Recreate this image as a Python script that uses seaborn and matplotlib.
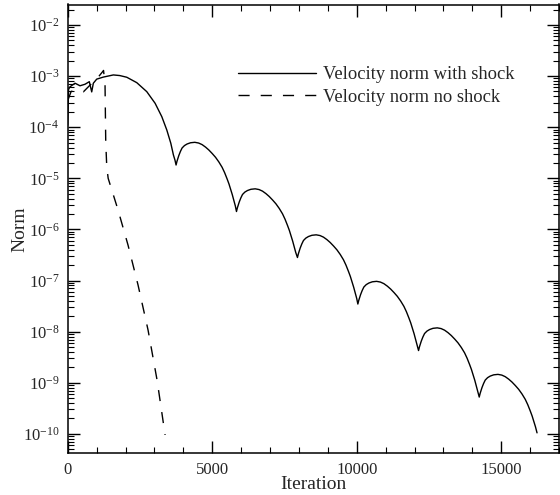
import numpy as np
import pandas as pd
import matplotlib
matplotlib.use("Agg")
import matplotlib.pyplot as plt
import matplotlib.ticker as mticker
import seaborn as sns

# ---- data (norm given as base-10 exponents) ----
shock_iter = [0, 30, 80, 253, 426, 600, 748, 831, 887, 1004, 1233, 1580,
              1800, 2044, 2390, 2736, 3024, 3256, 3429, 3568, 3658, 3710,
              3750, 3780, 3844, 3900, 3958, 4040, 4131, 4250, 4398, 4530, 4650, 4770,
              4883, 5000, 5115, 5230, 5343, 5430, 5517, 5580, 5634, 5695, 5749, 5800,
              5840, 5870, 5934, 5990, 6048, 6130, 6221, 6340, 6488, 6620, 6740, 6860,
              6973, 7090, 7205, 7320, 7433, 7520, 7607, 7670, 7724, 7785, 7839, 7890,
              7950, 7980, 8044, 8100, 8158, 8240, 8331, 8450, 8598, 8730, 8850, 8970,
              9083, 9200, 9315, 9430, 9543, 9630, 9717, 9780, 9834, 9895, 9949, 10000,
              10040, 10070, 10134, 10190, 10248, 10330, 10421, 10540, 10688, 10820, 10940, 11060,
              11173, 11290, 11405, 11520, 11633, 11720, 11807, 11870, 11924, 11985, 12039, 12090,
              12140, 12170, 12234, 12290, 12348, 12430, 12521, 12640, 12788, 12920, 13040, 13160,
              13273, 13390, 13505, 13620, 13733, 13820, 13907, 13970, 14024, 14085, 14139, 14190,
              14240, 14270, 14334, 14390, 14448, 14530, 14621, 14740, 14888, 15020, 15140, 15260,
              15373, 15490, 15605, 15720, 15833, 15920, 16007, 16070, 16124, 16185, 16240]
shock_exp = [-3.96, -3.26, -3.21, -3.14, -3.19, -3.16, -3.11, -3.31, -3.14, -3.06, -3.02, -2.978,
             -2.99, -3.023, -3.129, -3.305, -3.532, -3.794, -4.055, -4.315, -4.544, -4.64,
             -4.74, -4.67, -4.556, -4.475, -4.407, -4.36, -4.329, -4.305, -4.296, -4.31, -4.341, -4.39,
             -4.446, -4.515, -4.589, -4.68, -4.785, -4.89, -5.014, -5.11, -5.21, -5.32, -5.437, -5.54,
             -5.65, -5.58, -5.466, -5.385, -5.317, -5.27, -5.239, -5.215, -5.206, -5.22, -5.251, -5.30,
             -5.356, -5.425, -5.499, -5.59, -5.695, -5.80, -5.924, -6.02, -6.12, -6.23, -6.347, -6.45,
             -6.55, -6.48, -6.366, -6.285, -6.217, -6.17, -6.139, -6.115, -6.106, -6.12, -6.151, -6.20,
             -6.256, -6.325, -6.399, -6.49, -6.595, -6.70, -6.824, -6.92, -7.02, -7.13, -7.247, -7.35,
             -7.46, -7.39, -7.276, -7.195, -7.127, -7.08, -7.049, -7.025, -7.016, -7.03, -7.061, -7.11,
             -7.166, -7.235, -7.309, -7.40, -7.505, -7.61, -7.734, -7.83, -7.93, -8.04, -8.157, -8.26,
             -8.37, -8.30, -8.186, -8.105, -8.037, -7.99, -7.959, -7.935, -7.926, -7.94, -7.971, -8.02,
             -8.076, -8.145, -8.219, -8.31, -8.415, -8.52, -8.644, -8.74, -8.84, -8.95, -9.067, -9.17,
             -9.28, -9.21, -9.096, -9.015, -8.947, -8.90, -8.869, -8.845, -8.836, -8.85, -8.881, -8.93,
             -8.986, -9.055, -9.129, -9.22, -9.325, -9.43, -9.554, -9.65, -9.75, -9.86, -9.98]

noshock_iter = [0, 120, 300, 540, 750, 1000, 1200, 1240, 1292, 1316, 1351, 1400,
                1742, 2089, 2435, 2781, 3093, 3370]
noshock_exp = [-3.48, -3.30, -3.28, -3.31, -3.19, -3.06, -2.92, -2.89, -3.17, -4.28, -4.77, -5.0,
               -5.62, -6.31, -7.09, -7.97, -8.95, -10.02]

labels = ["Velocity norm with shock", "Velocity norm no shock"]
x_label = "Iteration"
y_label = "Norm"
y_major_exps = [-10, -9, -8, -7, -6, -5, -4, -3, -2]

# ---- style ----
sns.set_style("ticks")
plt.rcParams["font.family"] = ["Liberation Serif", "DejaVu Serif"]
plt.rcParams["mathtext.fontset"] = "custom"
plt.rcParams["mathtext.rm"] = "Liberation Serif"
plt.rcParams["mathtext.it"] = "Liberation Serif:italic"

fig = plt.figure(figsize=(5.6, 4.95), dpi=100)
ax = fig.add_axes([67.7 / 560, 1 - 453.3 / 495, (559 - 67.7) / 560, (453.3 - 4.5) / 495])

df_s = pd.DataFrame({"it": shock_iter, "norm": np.power(10.0, shock_exp)})
df_n = pd.DataFrame({"it": noshock_iter, "norm": np.power(10.0, noshock_exp)})

sns.lineplot(data=df_s, x="it", y="norm", ax=ax, color="black", lw=1.0, label=labels[0])
sns.lineplot(data=df_n, x="it", y="norm", ax=ax, color="black", lw=1.0,
             linestyle=(0, (8, 8)), label=labels[1])

ax.set_yscale("log")
ax.set_xlim(0, 17000)
ax.set_ylim(10 ** -10.38, 10 ** -1.6)

ax.xaxis.set_major_locator(mticker.MultipleLocator(5000))
ax.xaxis.set_minor_locator(mticker.MultipleLocator(1000))
ax.yaxis.set_major_locator(mticker.FixedLocator([10.0 ** e for e in y_major_exps]))
ax.yaxis.set_minor_locator(mticker.LogLocator(base=10, subs=np.arange(2, 10), numticks=20))
ax.yaxis.set_minor_formatter(mticker.NullFormatter())
ax.yaxis.set_major_formatter(mticker.FuncFormatter(
    lambda v, p: r"$\mathregular{10^{%d}}$" % int(round(np.log10(v)))))
ax.xaxis.offsetText.set_visible(False)
ax.yaxis.offsetText.set_visible(False)

ax.tick_params(which="both", direction="in", top=True, right=True, color="black")
ax.tick_params(which="major", length=8.5, width=1.0, labelsize=12, pad=6)
ax.tick_params(which="minor", length=4.5, width=0.8)
for s in ax.spines.values():
    s.set_linewidth(1.1)
    s.set_color("black")

ax.set_xlabel(x_label, fontsize=14)
ax.set_ylabel(y_label, fontsize=14)
ax.xaxis.set_label_coords(0.5, -0.050)
ax.yaxis.set_label_coords(-0.081, 0.5)

leg = ax.legend(loc="upper left", bbox_to_anchor=(0.3466, 0.862), frameon=False,
                fontsize=13.3, handlelength=4.2, handletextpad=0.38, borderpad=0,
                borderaxespad=0, labelspacing=0.28)

fig.savefig("out.png", dpi=100)
